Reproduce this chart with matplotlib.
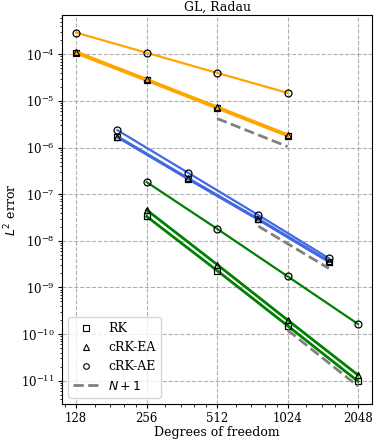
import numpy as np
import matplotlib
matplotlib.use("Agg")
import matplotlib.pyplot as plt
from matplotlib.lines import Line2D
from matplotlib.ticker import LogLocator, FixedLocator, FixedFormatter, NullFormatter

plt.rcParams['font.family'] = ['DejaVu Serif']
plt.rcParams['mathtext.fontset'] = 'dejavusans'
plt.rcParams['font.size'] = 9

# Degrees of freedom for each polynomial degree
dof_N1 = [128, 256, 512, 1024]
dof_N2 = [192, 384, 768, 1536]
dof_N3 = [256, 512, 1024, 2048]

# L2 errors
rk_N1 = [1.06e-4, 2.75e-5, 7.0e-6, 1.78e-6]
ea_N1 = [1.13e-4, 2.92e-5, 7.45e-6, 1.9e-6]
ae_N1 = [2.92e-4, 1.08e-4, 4.0e-5, 1.49e-5]

rk_N2 = [1.69e-6, 2.15e-7, 2.87e-8, 3.59e-9]
ea_N2 = [1.72e-6, 2.2e-7, 2.92e-8, 3.65e-9]
ae_N2 = [2.36e-6, 2.9e-7, 3.56e-8, 4.23e-9]

rk_N3 = [3.34e-8, 2.3e-9, 1.51e-10, 9.7e-12]
ea_N3 = [4.6e-8, 3.1e-9, 2.0e-10, 1.32e-11]
ae_N3 = [1.82e-7, 1.81e-8, 1.73e-9, 1.64e-10]

# N+1 reference slopes
ref_x_N1 = [512, 1024]
ref_y_N1 = [4.2e-6, 1.05e-6]
ref_x_N2 = [768, 1536]
ref_y_N2 = [2.06e-8, 2.57e-9]
ref_x_N3 = [1024, 2048]
ref_y_N3 = [1.22e-10, 7.6e-12]

xticks = [128, 256, 512, 1024, 2048]
xticklabels = ['128', '256', '512', '1024', '2048']

colors = ['orange', 'royalblue', 'green']

fig = plt.figure(figsize=(3.74, 4.4), dpi=100)
ax = fig.add_axes([0.166, 0.082, 0.829, 0.884])
ax.set_xscale('log', base=2)
ax.set_yscale('log')

groups = [
    (dof_N1, rk_N1, ea_N1, ae_N1, ref_x_N1, ref_y_N1, colors[0]),
    (dof_N2, rk_N2, ea_N2, ae_N2, ref_x_N2, ref_y_N2, colors[1]),
    (dof_N3, rk_N3, ea_N3, ae_N3, ref_x_N3, ref_y_N3, colors[2]),
]
mk = dict(mfc='none', mec='k', mew=0.9, ms=5)
for x, rk, ea, ae, rx, ry, c in groups:
    ax.plot(x, rk, '-', color=c, lw=2, marker='s', **mk)
    ax.plot(x, ea, '-', color=c, lw=2, marker='^', **mk)
    ax.plot(x, ae, '-', color=c, lw=1.6, marker='o', **mk)
    ax.plot(rx, ry, '--', color='grey', lw=2)

ax.xaxis.set_major_locator(FixedLocator(xticks))
ax.xaxis.set_major_formatter(FixedFormatter(xticklabels))
ax.xaxis.set_minor_locator(LogLocator(base=2, subs=[1.2, 1.4, 1.6, 1.8]))
ax.xaxis.set_minor_formatter(NullFormatter())
ax.yaxis.set_major_locator(LogLocator(base=10, numticks=20))
ax.yaxis.set_minor_locator(LogLocator(base=10, subs=np.arange(2, 10), numticks=100))
ax.yaxis.set_minor_formatter(NullFormatter())
ax.tick_params(axis='both', which='major', labelsize=8.5, length=3, pad=2.5)
ax.tick_params(axis='both', which='minor', length=1.8)

ax.grid(True, which='major', ls='--', color='#b0b0b0', lw=0.8)
ax.set_axisbelow(True)

ax.set_title('GL, Radau', fontsize=9, pad=3)
ax.set_xlabel('Degrees of freedom', fontsize=9, labelpad=1)
ax.set_ylabel('$L^2$ error', fontsize=9, labelpad=1)

handles = [
    Line2D([], [], ls='', marker='s', mfc='none', mec='k', ms=4, mew=0.8, label='RK'),
    Line2D([], [], ls='', marker='^', mfc='none', mec='k', ms=4, mew=0.8, label='cRK-EA'),
    Line2D([], [], ls='', marker='o', mfc='none', mec='k', ms=4, mew=0.8, label='cRK-AE'),
    Line2D([], [], ls='--', color='grey', lw=2, label='$N+1$'),
]
ax.legend(handles=handles, loc='lower left', fontsize=9)

fig.savefig('out.png', dpi=100)
